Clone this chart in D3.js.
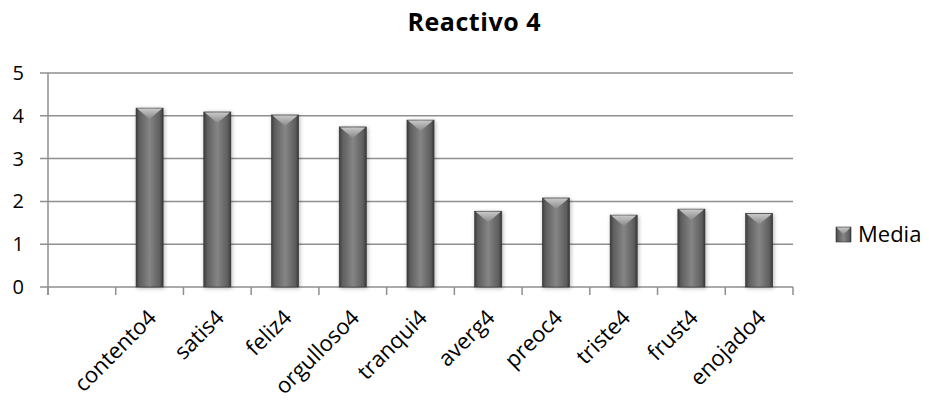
<!DOCTYPE html>
<html><head><meta charset="utf-8">
<script src="https://cdn.jsdelivr.net/npm/d3@7"></script>
<style>body{margin:0;background:#fff}svg{display:block}</style>
</head><body>
<script>
const title = "Reactivo 4";
const categories = ["", "contento4", "satis4", "feliz4", "orgulloso4", "tranqui4", "averg4", "preoc4", "triste4", "frust4", "enojado4"];
const media = [null, 4.18, 4.09, 4.02, 3.74, 3.90, 1.77, 2.08, 1.68, 1.82, 1.72];
const yTicks = [0, 1, 2, 3, 4, 5];
const seriesName = "Media";

const W = 929, H = 400;
const m = {left: 48, right: 136, top: 73, bottom: 113};
const svg = d3.select("body").append("svg").attr("width", W).attr("height", H);
const font = "'Open Sans', sans-serif";

const defs = svg.append("defs");
const g1 = defs.append("linearGradient").attr("id", "barg").attr("x1", "0").attr("x2", "1").attr("y1", "0").attr("y2", "0");
[[0, "#3c3c3c"], [0.12, "#5e5e5e"], [0.5, "#858585"], [0.88, "#5e5e5e"], [1, "#383838"]].forEach(([o, c]) => g1.append("stop").attr("offset", o).attr("stop-color", c));
const g2 = defs.append("linearGradient").attr("id", "topg").attr("x1", "0").attr("x2", "0").attr("y1", "0").attr("y2", "1");
[[0, "#c8c8c8"], [1, "#8a8a8a"]].forEach(([o, c]) => g2.append("stop").attr("offset", o).attr("stop-color", c));
const f = defs.append("filter").attr("id", "sh").attr("x", "-30%").attr("y", "-10%").attr("width", "160%").attr("height", "120%");
f.append("feGaussianBlur").attr("in", "SourceAlpha").attr("stdDeviation", 2).attr("result", "b");
f.append("feOffset").attr("in", "b").attr("dx", 1).attr("dy", 1).attr("result", "o");
f.append("feComponentTransfer").attr("in", "o").attr("result", "o2").append("feFuncA").attr("type", "linear").attr("slope", 0.3);
const fm = f.append("feMerge"); fm.append("feMergeNode").attr("in", "o2"); fm.append("feMergeNode").attr("in", "SourceGraphic");

const x = d3.scaleBand().domain(categories.map((c, i) => i)).range([m.left, W - m.right]).paddingInner(0.6).paddingOuter(0.3);
const xb = d3.scaleBand().domain(categories.map((c, i) => i)).range([m.left, W - m.right]);
const y = d3.scaleLinear().domain([0, 5]).range([H - m.bottom, m.top]);

// gridlines
svg.append("g").selectAll("line").data(yTicks).join("line")
  .attr("x1", m.left - 8).attr("x2", W - m.right)
  .attr("y1", d => y(d)).attr("y2", d => y(d))
  .attr("stroke", "#8f8f8f").attr("stroke-width", 1.5);

// y axis line
svg.append("line").attr("x1", m.left).attr("x2", m.left).attr("y1", y(5)).attr("y2", y(0) + 8)
  .attr("stroke", "#8f8f8f").attr("stroke-width", 1.5);

// x ticks
const xt = d3.range(categories.length + 1).map(i => m.left + i * xb.step());
svg.append("g").selectAll("line").data(xt).join("line")
  .attr("x1", d => d).attr("x2", d => d).attr("y1", y(0)).attr("y2", y(0) + 8)
  .attr("stroke", "#8f8f8f").attr("stroke-width", 1.5);

// y labels
svg.append("g").selectAll("text").data(yTicks).join("text")
  .attr("x", 24).attr("y", d => y(d) + 7).attr("text-anchor", "end")
  .attr("font-family", font).attr("font-size", 20).attr("fill", "#000").text(d => d);

// bars
const bars = svg.append("g").selectAll("g").data(media.map((v, i) => ({v, i})).filter(d => d.v != null)).join("g").attr("filter", "url(#sh)");
bars.append("rect")
  .attr("x", d => x(d.i)).attr("width", x.bandwidth())
  .attr("y", d => y(d.v)).attr("height", d => y(0) - y(d.v))
  .attr("fill", "url(#barg)").attr("stroke", "#333").attr("stroke-width", 0.6);
bars.append("path")
  .attr("d", d => {
    const x0 = x(d.i), w = x.bandwidth(), t = y(d.v);
    return `M${x0+1},${t+0.5} L${x0+w-1},${t+0.5} L${x0+w/2},${t+11} Z`;
  })
  .attr("fill", "url(#topg)");

// x labels
svg.append("g").selectAll("text").data(categories).join("text")
  .attr("transform", (d, i) => `translate(${xb(i) + xb.bandwidth()/2 + 8},${y(0) + 32}) rotate(-45)`)
  .attr("text-anchor", "end")
  .attr("font-family", font).attr("font-size", 22).attr("fill", "#000").text(d => d);

// title
svg.append("text").attr("x", 474).attr("y", 31).attr("text-anchor", "middle")
  .attr("font-family", font).attr("font-weight", "bold").attr("font-size", 25)
  .attr("textLength", 133).attr("lengthAdjust", "spacing").text(title);

// legend
svg.append("rect").attr("x", 836).attr("y", 227).attr("width", 15).attr("height", 15).attr("fill", "url(#barg)").attr("stroke", "#333").attr("stroke-width", 0.6);
svg.append("path").attr("d", "M836.5,227.5 L850.5,227.5 L843.5,234.5 Z").attr("fill", "url(#topg)");
svg.append("text").attr("x", 858).attr("y", 242).attr("font-family", font).attr("font-size", 22).text(seriesName);
</script>
</body></html>
